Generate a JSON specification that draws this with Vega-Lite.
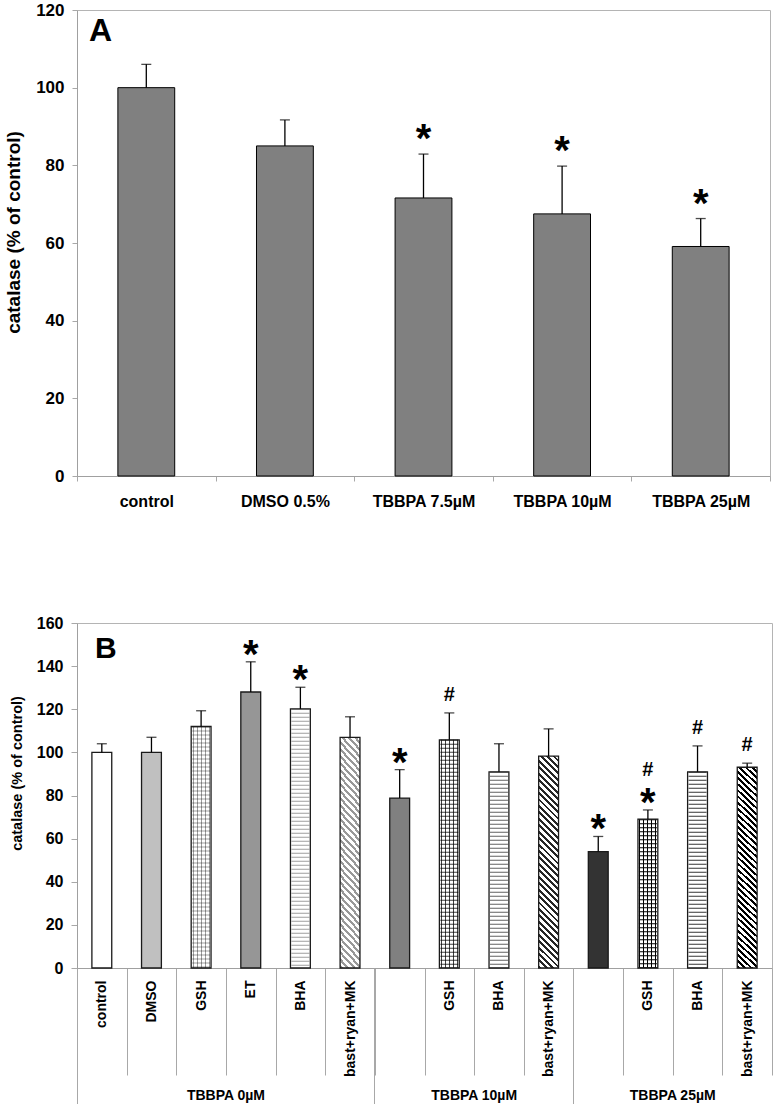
{
  "$schema": "https://vega.github.io/schema/vega-lite/v6.json",
  "background": "white",
  "padding": {"left": 4, "top": 0, "right": 0, "bottom": 0},
  "config": {
    "font": "Liberation Sans",
    "view": {"stroke": "#b4b4b4", "strokeWidth": 1},
    "axis": {"labelFont": "Liberation Sans", "labelFontWeight": "bold", "labelColor": "#000", "titleFont": "Liberation Sans", "titleFontWeight": "bold", "titleColor": "#000", "domainColor": "#a0a0a0", "tickColor": "#a8a8a8", "grid": false}
  },
  "spacing": 104,
  "vconcat": [
    {
      "width": 693,
      "height": 466,
      "data": {"values": [
        {"treatment": "control", "mean": 100, "err": 106, "sig": ""},
        {"treatment": "DMSO 0.5%", "mean": 85, "err": 91.7, "sig": ""},
        {"treatment": "TBBPA 7.5µM", "mean": 71.6, "err": 82.9, "sig": "*"},
        {"treatment": "TBBPA 10µM", "mean": 67.5, "err": 79.8, "sig": "*"},
        {"treatment": "TBBPA 25µM", "mean": 59.1, "err": 66.3, "sig": "*"}
      ]},
      "layer": [
        {
          "mark": {"type": "bar", "fill": "#808080", "stroke": "#000", "strokeWidth": 1, "width": {"band": 0.41}},
          "encoding": {
            "x": {"field": "treatment", "type": "nominal", "sort": null,
              "scale": {"domain": ["control", "DMSO 0.5%", "TBBPA 7.5µM", "TBBPA 10µM", "TBBPA 25µM"], "paddingInner": 0, "paddingOuter": 0},
              "axis": {"title": null, "labelAngle": 0, "labelFontSize": 16, "tickBand": "extent", "tickSize": 5, "labelPadding": 12}},
            "y": {"field": "mean", "type": "quantitative", "scale": {"domain": [0, 120]},
              "axis": {"title": "catalase (% of control)", "titleY": 222, "values": [0, 20, 40, 60, 80, 100, 120], "labelFontSize": 17, "titleFontSize": 19, "tickSize": 5, "labelPadding": 8, "titlePadding": 12}}
          }
        },
        {
          "mark": {"type": "rule", "stroke": "#000", "strokeWidth": 1.3},
          "encoding": {
            "x": {"field": "treatment", "type": "nominal", "sort": null},
            "y": {"field": "mean", "type": "quantitative"},
            "y2": {"field": "err"}
          }
        },
        {
          "mark": {"type": "tick", "color": "#000", "size": 10, "thickness": 1.3},
          "encoding": {
            "x": {"field": "treatment", "type": "nominal", "sort": null},
            "y": {"field": "err", "type": "quantitative"}
          }
        },
        {
          "transform": [{"filter": "datum.sig === '*'"}],
          "mark": {"type": "text", "text": "*", "fontSize": 40, "fontWeight": "bold", "color": "#000", "baseline": "alphabetic", "dy": -2},
          "encoding": {
            "x": {"field": "treatment", "type": "nominal", "sort": null},
            "y": {"field": "err", "type": "quantitative"}
          }
        },
        {
          "data": {"values": [{"panel": "A"}]},
          "mark": {"type": "text", "fontSize": 32, "fontWeight": "bold", "align": "left", "baseline": "middle", "dx": 12, "color": "#000"},
          "encoding": {
            "x": {"datum": "control", "bandPosition": 0},
            "y": {"datum": 114.5},
            "text": {"field": "panel"}
          }
        }
      ]
    },
    {
      "width": 695,
      "height": 345,
      "data": {"values": [
        {"bar": "control|TBBPA 0µM", "mean": 100, "err": 104, "star": false, "hash": false},
        {"bar": "DMSO|TBBPA 0µM", "mean": 100, "err": 107, "star": false, "hash": false},
        {"bar": "GSH|TBBPA 0µM", "mean": 112, "err": 119.3, "star": false, "hash": false},
        {"bar": "ET|TBBPA 0µM", "mean": 128, "err": 142, "star": true, "hash": false},
        {"bar": "BHA|TBBPA 0µM", "mean": 120.2, "err": 130.2, "star": true, "hash": false},
        {"bar": "bast+ryan+MK|TBBPA 0µM", "mean": 107, "err": 116.5, "star": false, "hash": false},
        {"bar": "|TBBPA 10µM", "mean": 78.8, "err": 92, "star": true, "hash": false},
        {"bar": "GSH|TBBPA 10µM", "mean": 105.8, "err": 118.3, "star": false, "hash": true},
        {"bar": "BHA|TBBPA 10µM", "mean": 91, "err": 104, "star": false, "hash": false},
        {"bar": "bast+ryan+MK|TBBPA 10µM", "mean": 98.3, "err": 110.9, "star": false, "hash": false},
        {"bar": "|TBBPA 25µM", "mean": 54, "err": 61, "star": true, "hash": false},
        {"bar": "GSH|TBBPA 25µM", "mean": 69, "err": 73.3, "star": true, "hash": true},
        {"bar": "BHA|TBBPA 25µM", "mean": 91, "err": 103, "star": false, "hash": true},
        {"bar": "bast+ryan+MK|TBBPA 25µM", "mean": 93.1, "err": 95, "star": false, "hash": true}
      ]},
      "resolve": {"axis": {"x": "independent"}},
      "layer": [
        {
          "mark": {"type": "bar", "strokeWidth": 0, "width": {"band": 0.4}},
          "encoding": {
            "x": {"field": "bar", "type": "nominal", "sort": null,
              "scale": {"domain": ["control|TBBPA 0µM", "DMSO|TBBPA 0µM", "GSH|TBBPA 0µM", "ET|TBBPA 0µM", "BHA|TBBPA 0µM", "bast+ryan+MK|TBBPA 0µM", "|TBBPA 10µM", "GSH|TBBPA 10µM", "BHA|TBBPA 10µM", "bast+ryan+MK|TBBPA 10µM", "|TBBPA 25µM", "GSH|TBBPA 25µM", "BHA|TBBPA 25µM", "bast+ryan+MK|TBBPA 25µM"], "paddingInner": 0, "paddingOuter": 0},
              "axis": {"orient": "bottom", "title": null, "labelAngle": 270, "labelAlign": "right", "labelBaseline": "middle", "labelFontSize": 14, "labelExpr": "isValid(datum.value) ? split(datum.value, '|')[0] : ''", "tickBand": "extent", "tickSize": 107, "labelPadding": -95}},
            "y": {"field": "mean", "type": "quantitative", "scale": {"domain": [0, 160]},
              "axis": {"title": "catalase (% of control)", "titleY": 150, "values": [0, 20, 40, 60, 80, 100, 120, 140, 160], "labelFontSize": 16, "titleFontSize": 14.5, "tickSize": 6, "labelPadding": 8, "titlePadding": 12}},
            "fill": {"field": "bar", "type": "nominal", "legend": null,
              "scale": {"domain": ["control|TBBPA 0µM", "DMSO|TBBPA 0µM", "GSH|TBBPA 0µM", "ET|TBBPA 0µM", "BHA|TBBPA 0µM", "bast+ryan+MK|TBBPA 0µM", "|TBBPA 10µM", "GSH|TBBPA 10µM", "BHA|TBBPA 10µM", "bast+ryan+MK|TBBPA 10µM", "|TBBPA 25µM", "GSH|TBBPA 25µM", "BHA|TBBPA 25µM", "bast+ryan+MK|TBBPA 25µM"],
                "range": ["#ffffff", "#c0c0c0", "#ffffff", "#969696", "#ffffff", "#ffffff", "#808080", "#ffffff", "#ffffff", "#ffffff", "#333333", "#ffffff", "#ffffff", "#ffffff"]}}
          }
        },
        {
          "transform": [{"filter": "indexof(datum.bar, 'GSH') === 0"}],
          "mark": {"type": "bar", "strokeWidth": 0, "width": {"band": 0.4}, "fill": {"gradient": "linear", "x1": 0, "y1": 0, "x2": 1, "y2": 0, "stops": [
            {"offset": 0, "color": "#fff"}, {"offset": 0.075, "color": "#fff"}, {"offset": 0.075, "color": "#000"}, {"offset": 0.125, "color": "#000"}, {"offset": 0.125, "color": "#fff"},
            {"offset": 0.275, "color": "#fff"}, {"offset": 0.275, "color": "#000"}, {"offset": 0.325, "color": "#000"}, {"offset": 0.325, "color": "#fff"},
            {"offset": 0.475, "color": "#fff"}, {"offset": 0.475, "color": "#000"}, {"offset": 0.525, "color": "#000"}, {"offset": 0.525, "color": "#fff"},
            {"offset": 0.675, "color": "#fff"}, {"offset": 0.675, "color": "#000"}, {"offset": 0.725, "color": "#000"}, {"offset": 0.725, "color": "#fff"},
            {"offset": 0.875, "color": "#fff"}, {"offset": 0.875, "color": "#000"}, {"offset": 0.925, "color": "#000"}, {"offset": 0.925, "color": "#fff"}, {"offset": 1, "color": "#fff"}
          ]}},
          "encoding": {
            "x": {"field": "bar", "type": "nominal", "sort": null, "axis": null},
            "y": {"field": "mean", "type": "quantitative"},
            "opacity": {"field": "bar", "type": "nominal", "legend": null,
              "scale": {"type": "ordinal", "domain": ["control|TBBPA 0µM", "DMSO|TBBPA 0µM", "GSH|TBBPA 0µM", "ET|TBBPA 0µM", "BHA|TBBPA 0µM", "bast+ryan+MK|TBBPA 0µM", "|TBBPA 10µM", "GSH|TBBPA 10µM", "BHA|TBBPA 10µM", "bast+ryan+MK|TBBPA 10µM", "|TBBPA 25µM", "GSH|TBBPA 25µM", "BHA|TBBPA 25µM", "bast+ryan+MK|TBBPA 25µM"],
                "range": [0, 0, 0.38, 0, 0.38, 0.4, 0, 0.75, 0.62, 0.85, 0, 1, 0.8, 1]}}
          }
        },
        {
          "transform": [{"filter": "indexof(datum.bar, 'bast') === 0"}],
          "mark": {"type": "bar", "strokeWidth": 0, "width": {"band": 0.4}, "fill": {"gradient": "linear", "x1": 0, "y1": 1, "x2": 0.1013, "y2": -0.0839, "stops": [
            {"offset": 0, "color": "#000"}, {"offset": 0.0125, "color": "#000"}, {"offset": 0.0125, "color": "#fff"}, {"offset": 0.02778, "color": "#fff"},
            {"offset": 0.02778, "color": "#000"}, {"offset": 0.04028, "color": "#000"}, {"offset": 0.04028, "color": "#fff"}, {"offset": 0.05556, "color": "#fff"},
            {"offset": 0.05556, "color": "#000"}, {"offset": 0.06806, "color": "#000"}, {"offset": 0.06806, "color": "#fff"}, {"offset": 0.08333, "color": "#fff"},
            {"offset": 0.08333, "color": "#000"}, {"offset": 0.09583, "color": "#000"}, {"offset": 0.09583, "color": "#fff"}, {"offset": 0.11111, "color": "#fff"},
            {"offset": 0.11111, "color": "#000"}, {"offset": 0.12361, "color": "#000"}, {"offset": 0.12361, "color": "#fff"}, {"offset": 0.13889, "color": "#fff"},
            {"offset": 0.13889, "color": "#000"}, {"offset": 0.15139, "color": "#000"}, {"offset": 0.15139, "color": "#fff"}, {"offset": 0.16667, "color": "#fff"},
            {"offset": 0.16667, "color": "#000"}, {"offset": 0.17917, "color": "#000"}, {"offset": 0.17917, "color": "#fff"}, {"offset": 0.19444, "color": "#fff"},
            {"offset": 0.19444, "color": "#000"}, {"offset": 0.20694, "color": "#000"}, {"offset": 0.20694, "color": "#fff"}, {"offset": 0.22222, "color": "#fff"},
            {"offset": 0.22222, "color": "#000"}, {"offset": 0.23472, "color": "#000"}, {"offset": 0.23472, "color": "#fff"}, {"offset": 0.25, "color": "#fff"},
            {"offset": 0.25, "color": "#000"}, {"offset": 0.2625, "color": "#000"}, {"offset": 0.2625, "color": "#fff"}, {"offset": 0.27778, "color": "#fff"},
            {"offset": 0.27778, "color": "#000"}, {"offset": 0.29028, "color": "#000"}, {"offset": 0.29028, "color": "#fff"}, {"offset": 0.30556, "color": "#fff"},
            {"offset": 0.30556, "color": "#000"}, {"offset": 0.31806, "color": "#000"}, {"offset": 0.31806, "color": "#fff"}, {"offset": 0.33333, "color": "#fff"},
            {"offset": 0.33333, "color": "#000"}, {"offset": 0.34583, "color": "#000"}, {"offset": 0.34583, "color": "#fff"}, {"offset": 0.36111, "color": "#fff"},
            {"offset": 0.36111, "color": "#000"}, {"offset": 0.37361, "color": "#000"}, {"offset": 0.37361, "color": "#fff"}, {"offset": 0.38889, "color": "#fff"},
            {"offset": 0.38889, "color": "#000"}, {"offset": 0.40139, "color": "#000"}, {"offset": 0.40139, "color": "#fff"}, {"offset": 0.41667, "color": "#fff"},
            {"offset": 0.41667, "color": "#000"}, {"offset": 0.42917, "color": "#000"}, {"offset": 0.42917, "color": "#fff"}, {"offset": 0.44444, "color": "#fff"},
            {"offset": 0.44444, "color": "#000"}, {"offset": 0.45694, "color": "#000"}, {"offset": 0.45694, "color": "#fff"}, {"offset": 0.47222, "color": "#fff"},
            {"offset": 0.47222, "color": "#000"}, {"offset": 0.48472, "color": "#000"}, {"offset": 0.48472, "color": "#fff"}, {"offset": 0.5, "color": "#fff"},
            {"offset": 0.5, "color": "#000"}, {"offset": 0.5125, "color": "#000"}, {"offset": 0.5125, "color": "#fff"}, {"offset": 0.52778, "color": "#fff"},
            {"offset": 0.52778, "color": "#000"}, {"offset": 0.54028, "color": "#000"}, {"offset": 0.54028, "color": "#fff"}, {"offset": 0.55556, "color": "#fff"},
            {"offset": 0.55556, "color": "#000"}, {"offset": 0.56806, "color": "#000"}, {"offset": 0.56806, "color": "#fff"}, {"offset": 0.58333, "color": "#fff"},
            {"offset": 0.58333, "color": "#000"}, {"offset": 0.59583, "color": "#000"}, {"offset": 0.59583, "color": "#fff"}, {"offset": 0.61111, "color": "#fff"},
            {"offset": 0.61111, "color": "#000"}, {"offset": 0.62361, "color": "#000"}, {"offset": 0.62361, "color": "#fff"}, {"offset": 0.63889, "color": "#fff"},
            {"offset": 0.63889, "color": "#000"}, {"offset": 0.65139, "color": "#000"}, {"offset": 0.65139, "color": "#fff"}, {"offset": 0.66667, "color": "#fff"},
            {"offset": 0.66667, "color": "#000"}, {"offset": 0.67917, "color": "#000"}, {"offset": 0.67917, "color": "#fff"}, {"offset": 0.69444, "color": "#fff"},
            {"offset": 0.69444, "color": "#000"}, {"offset": 0.70694, "color": "#000"}, {"offset": 0.70694, "color": "#fff"}, {"offset": 0.72222, "color": "#fff"},
            {"offset": 0.72222, "color": "#000"}, {"offset": 0.73472, "color": "#000"}, {"offset": 0.73472, "color": "#fff"}, {"offset": 0.75, "color": "#fff"},
            {"offset": 0.75, "color": "#000"}, {"offset": 0.7625, "color": "#000"}, {"offset": 0.7625, "color": "#fff"}, {"offset": 0.77778, "color": "#fff"},
            {"offset": 0.77778, "color": "#000"}, {"offset": 0.79028, "color": "#000"}, {"offset": 0.79028, "color": "#fff"}, {"offset": 0.80556, "color": "#fff"},
            {"offset": 0.80556, "color": "#000"}, {"offset": 0.81806, "color": "#000"}, {"offset": 0.81806, "color": "#fff"}, {"offset": 0.83333, "color": "#fff"},
            {"offset": 0.83333, "color": "#000"}, {"offset": 0.84583, "color": "#000"}, {"offset": 0.84583, "color": "#fff"}, {"offset": 0.86111, "color": "#fff"},
            {"offset": 0.86111, "color": "#000"}, {"offset": 0.87361, "color": "#000"}, {"offset": 0.87361, "color": "#fff"}, {"offset": 0.88889, "color": "#fff"},
            {"offset": 0.88889, "color": "#000"}, {"offset": 0.90139, "color": "#000"}, {"offset": 0.90139, "color": "#fff"}, {"offset": 0.91667, "color": "#fff"},
            {"offset": 0.91667, "color": "#000"}, {"offset": 0.92917, "color": "#000"}, {"offset": 0.92917, "color": "#fff"}, {"offset": 0.94444, "color": "#fff"},
            {"offset": 0.94444, "color": "#000"}, {"offset": 0.95694, "color": "#000"}, {"offset": 0.95694, "color": "#fff"}, {"offset": 0.97222, "color": "#fff"},
            {"offset": 0.97222, "color": "#000"}, {"offset": 0.98472, "color": "#000"}, {"offset": 0.98472, "color": "#fff"}, {"offset": 1, "color": "#fff"}
          ]}},
          "encoding": {
            "x": {"field": "bar", "type": "nominal", "sort": null, "axis": null},
            "y": {"field": "mean", "type": "quantitative"},
            "opacity": {"field": "bar", "type": "nominal", "legend": null,
              "scale": {"type": "ordinal", "domain": ["control|TBBPA 0µM", "DMSO|TBBPA 0µM", "GSH|TBBPA 0µM", "ET|TBBPA 0µM", "BHA|TBBPA 0µM", "bast+ryan+MK|TBBPA 0µM", "|TBBPA 10µM", "GSH|TBBPA 10µM", "BHA|TBBPA 10µM", "bast+ryan+MK|TBBPA 10µM", "|TBBPA 25µM", "GSH|TBBPA 25µM", "BHA|TBBPA 25µM", "bast+ryan+MK|TBBPA 25µM"],
                "range": [0, 0, 0.38, 0, 0.38, 0.4, 0, 0.75, 0.62, 0.85, 0, 1, 0.8, 1]}}
          }
        },
        {
          "transform": [{"filter": "indexof(datum.bar, 'GSH') === 0 || indexof(datum.bar, 'BHA') === 0"}],
          "mark": {"type": "rule", "stroke": "#000", "strokeWidth": 18, "strokeDash": [1, 3], "strokeCap": "butt"},
          "encoding": {
            "x": {"field": "bar", "type": "nominal", "sort": null, "axis": null},
            "y": {"field": "mean", "type": "quantitative"},
            "y2": {"datum": 0},
            "strokeOpacity": {"field": "bar", "type": "nominal", "legend": null,
              "scale": {"type": "ordinal", "domain": ["control|TBBPA 0µM", "DMSO|TBBPA 0µM", "GSH|TBBPA 0µM", "ET|TBBPA 0µM", "BHA|TBBPA 0µM", "bast+ryan+MK|TBBPA 0µM", "|TBBPA 10µM", "GSH|TBBPA 10µM", "BHA|TBBPA 10µM", "bast+ryan+MK|TBBPA 10µM", "|TBBPA 25µM", "GSH|TBBPA 25µM", "BHA|TBBPA 25µM", "bast+ryan+MK|TBBPA 25µM"],
                "range": [0, 0, 0.38, 0, 0.38, 0.4, 0, 0.75, 0.62, 0.85, 0, 1, 0.8, 1]}}
          }
        },
        {
          "mark": {"type": "bar", "fill": "transparent", "stroke": "#1a1a1a", "strokeWidth": 1.3, "width": {"band": 0.4}},
          "encoding": {
            "x": {"field": "bar", "type": "nominal", "sort": null,
              "axis": {"orient": "bottom", "title": null, "values": ["control|TBBPA 0µM", "|TBBPA 10µM", "|TBBPA 25µM"], "bandPosition": 0, "tickExtra": false, "tickSize": 136, "labels": false, "domain": false}},
            "y": {"field": "mean", "type": "quantitative"}
          }
        },
        {
          "mark": {"type": "rule", "stroke": "#000", "strokeWidth": 1.3},
          "encoding": {
            "x": {"field": "bar", "type": "nominal", "sort": null, "axis": null},
            "y": {"field": "mean", "type": "quantitative"},
            "y2": {"field": "err"}
          }
        },
        {
          "mark": {"type": "tick", "color": "#000", "size": 10, "thickness": 1.3},
          "encoding": {
            "x": {"field": "bar", "type": "nominal", "sort": null,
              "axis": {"orient": "bottom", "title": null, "values": ["ET|TBBPA 0µM", "BHA|TBBPA 10µM", "BHA|TBBPA 25µM"], "ticks": false, "domain": false, "labelAngle": 0, "labelAlign": "center", "labelBaseline": "top", "labelOffset": -24.8, "labelPadding": 120, "labelFontSize": 14, "labelExpr": "split(datum.value, '|')[1]"}},
            "y": {"field": "err", "type": "quantitative"}
          }
        },
        {
          "transform": [{"filter": "datum.star"}],
          "mark": {"type": "text", "text": "*", "fontSize": 40, "fontWeight": "bold", "color": "#000", "baseline": "alphabetic", "dy": 6},
          "encoding": {
            "x": {"field": "bar", "type": "nominal", "sort": null, "axis": null},
            "y": {"field": "err", "type": "quantitative"}
          }
        },
        {
          "transform": [{"filter": "datum.hash && !datum.star"}],
          "mark": {"type": "text", "text": "#", "fontSize": 20, "fontWeight": "bold", "color": "#000", "baseline": "alphabetic", "dy": -12},
          "encoding": {
            "x": {"field": "bar", "type": "nominal", "sort": null, "axis": null},
            "y": {"field": "err", "type": "quantitative"}
          }
        },
        {
          "transform": [{"filter": "datum.hash && datum.star"}],
          "mark": {"type": "text", "text": "#", "fontSize": 20, "fontWeight": "bold", "color": "#000", "baseline": "alphabetic", "dy": -34},
          "encoding": {
            "x": {"field": "bar", "type": "nominal", "sort": null, "axis": null},
            "y": {"field": "err", "type": "quantitative"}
          }
        },
        {
          "data": {"values": [{"panel": "B"}]},
          "mark": {"type": "text", "fontSize": 30, "fontWeight": "bold", "align": "left", "baseline": "middle", "dx": 18, "color": "#000"},
          "encoding": {
            "x": {"datum": "control|TBBPA 0µM", "bandPosition": 0, "axis": null},
            "y": {"datum": 148},
            "text": {"field": "panel"}
          }
        }
      ]
    }
  ]
}
